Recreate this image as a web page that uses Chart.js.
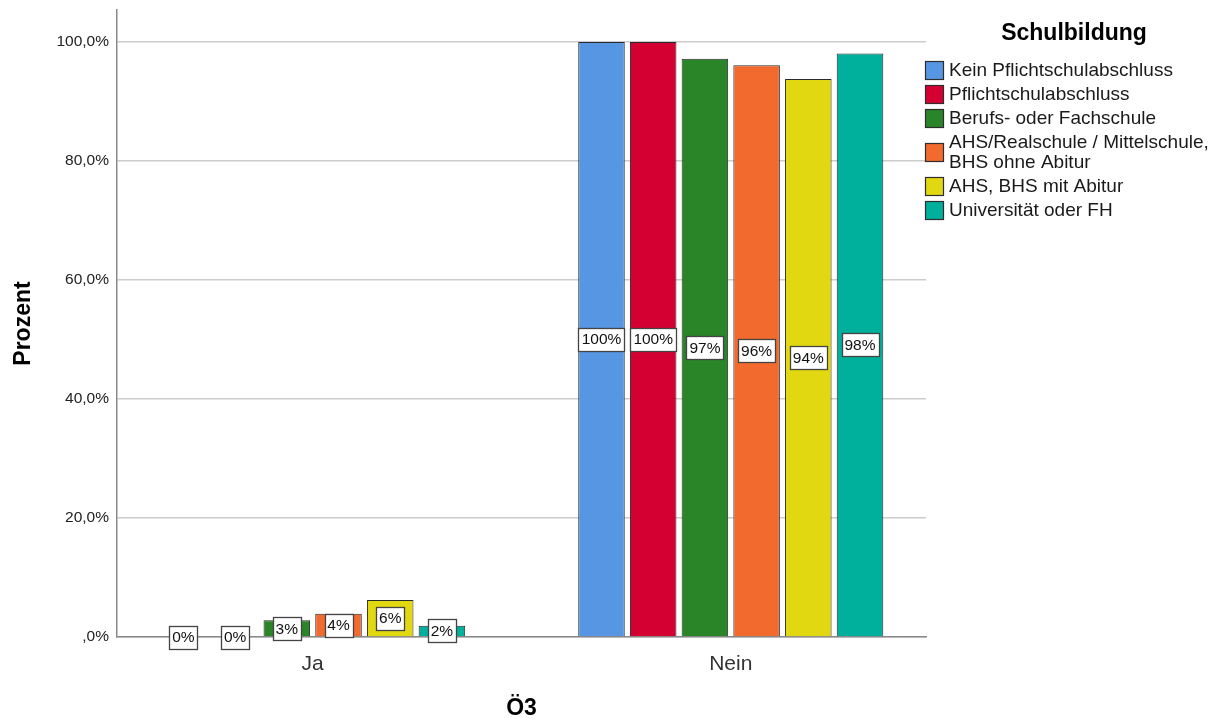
<!DOCTYPE html>
<html><head><meta charset="utf-8">
<script src="https://cdn.jsdelivr.net/npm/chart.js@4.4.0/dist/chart.umd.min.js"></script>
<style>html,body{margin:0;padding:0;background:#fff;}#wrap{width:1227px;height:722px;}</style>
</head><body><div id="wrap"><canvas id="c" width="1227" height="722"></canvas></div>
<script>
// ---- data ----
const categories = ['Ja', 'Nein'];
const seriesNames = ['Kein Pflichtschulabschluss', 'Pflichtschulabschluss', 'Berufs- oder Fachschule', 'AHS/Realschule / Mittelschule, BHS ohne Abitur', 'AHS, BHS mit Abitur', 'Universität oder FH'];
const legendLines = [['Kein Pflichtschulabschluss'], ['Pflichtschulabschluss'], ['Berufs- oder Fachschule'], ['AHS/Realschule / Mittelschule,', 'BHS ohne Abitur'], ['AHS, BHS mit Abitur'], ['Universität oder FH']];
const keinPflicht = [0, 100];
const pflicht = [0, 100];
const berufs = [2.8, 97.2];
const ahsOhneAbitur = [3.9, 96.1];
const ahsMitAbitur = [6.2, 93.8];
const uniFH = [1.9, 98.1];
const yTickValues = [0, 20, 40, 60, 80, 100];
const legendTitle = 'Schulbildung';
const xTitle = 'Ö3';
const yTitle = 'Prozent';

// ---- styles ----
const seriesValues = [keinPflicht, pflicht, berufs, ahsOhneAbitur, ahsMitAbitur, uniFH];
const colors = ['#5696e3', '#d50032', '#2a8428', '#f26a2d', '#e2d811', '#00af9c'];
const FAMILY = '"Liberation Sans", Arial, sans-serif';

function formatY(v) {
  if (v === 0) return ',0%';
  return v.toFixed(1).replace('.', ',') + '%';
}

const barLabels = {
  id: 'barLabels',
  afterDatasetsDraw(chart) {
    const ctx = chart.ctx;
    ctx.save();
    ctx.font = '15.5px ' + FAMILY;
    ctx.textAlign = 'center';
    ctx.textBaseline = 'middle';
    chart.data.datasets.forEach((ds, k) => {
      const meta = chart.getDatasetMeta(k);
      meta.data.forEach((bar, i) => {
        const v = ds.data[i].y;
        const txt = Math.round(v) + '%';
        const cy = (bar.y + bar.base) / 2;
        const w = Math.round(ctx.measureText(txt).width + 6);
        const h = 23;
        const x0 = Math.round(bar.x - w / 2) + 0.5, y0 = Math.round(cy - h / 2) + 0.5;
        ctx.fillStyle = '#ffffff';
        ctx.fillRect(x0, y0, w, h);
        ctx.lineWidth = 1.3;
        ctx.strokeStyle = '#444444';
        ctx.strokeRect(x0, y0, w, h);
        ctx.fillStyle = '#111111';
        ctx.fillText(txt, bar.x, cy + 1);
      });
    });
    ctx.restore();
  }
};

const customLegend = {
  id: 'customLegend',
  afterDraw(chart) {
    const ctx = chart.ctx;
    ctx.save();
    ctx.fillStyle = '#000';
    ctx.font = 'bold 23px ' + FAMILY;
    ctx.textAlign = 'center';
    ctx.textBaseline = 'middle';
    ctx.fillText(legendTitle, 1074, 34);
    ctx.font = '19px ' + FAMILY;
    ctx.textAlign = 'left';
    let y = 70;
    const lineGap = 20, rowGap = 24, box = 18;
    chart.data.datasets.forEach((ds, k) => {
      const lines = legendLines[k];
      const blockMid = y + (lines.length - 1) * lineGap / 2;
      ctx.fillStyle = ds.backgroundColor;
      ctx.fillRect(925.5, Math.round(blockMid - box / 2) + 0.5, box, box);
      ctx.lineWidth = 1.2;
      ctx.strokeStyle = '#2e2e2e';
      ctx.strokeRect(925.5, Math.round(blockMid - box / 2) + 0.5, box, box);
      ctx.fillStyle = '#1a1a1a';
      lines.forEach((ln, j) => ctx.fillText(ln, 949, y + j * lineGap + 1));
      y += (lines.length - 1) * lineGap + rowGap;
    });
    ctx.restore();
  }
};

const datasets = seriesValues.map((vals, k) => ({
  label: seriesNames[k],
  data: vals.map((v, i) => ({ x: i, y: v })),
  backgroundColor: colors[k],
  borderColor: '#2a2a2a',
  borderWidth: 1,
  categoryPercentage: 0.742,
  barPercentage: 0.9
}));

new Chart(document.getElementById('c'), {
  type: 'bar',
  data: { datasets },
  plugins: [barLabels, customLegend],
  options: {
    responsive: false,
    animation: false,
    devicePixelRatio: 1,
    layout: { padding: { left: 0, top: 10, right: 301, bottom: 0 } },
    plugins: { legend: { display: false }, tooltip: { enabled: false } },
    scales: {
      x: {
        type: 'linear',
        offset: false,
        min: -0.468,
        max: 1.467,
        afterBuildTicks: s => { s.ticks = categories.map((c, i) => ({ value: i })); },
        afterFit: s => { s.height = 85; s.paddingLeft = 0; s.paddingRight = 0; },
        grid: { display: false, drawTicks: false, offset: false },
        border: { display: true, color: '#8a8a8a', width: 1.5 },
        ticks: { callback: v => categories[v], font: { family: FAMILY, size: 21 }, color: '#333', padding: 15, autoSkip: false, maxRotation: 0 },
        title: { display: true, text: xTitle, font: { family: FAMILY, size: 23, weight: 'bold' }, color: '#000', padding: { top: 0, bottom: 0 } }
      },
      y: {
        min: 0,
        max: 105.4,
        afterBuildTicks: s => { s.ticks = yTickValues.map(v => ({ value: v })); },
        afterFit: s => { s.width = 117; s.paddingTop = 0; s.paddingBottom = 0; },
        grid: { color: '#cccccc', lineWidth: 1.5, drawTicks: false },
        border: { display: true, color: '#8a8a8a', width: 1.5 },
        ticks: { callback: v => formatY(v), font: { family: FAMILY, size: 15.5 }, color: '#222', padding: 8 },
        title: { display: true, text: yTitle, font: { family: FAMILY, size: 23, weight: 'bold' }, color: '#000', padding: { top: 10, bottom: 0 } }
      }
    }
  }
});
</script></body></html>
